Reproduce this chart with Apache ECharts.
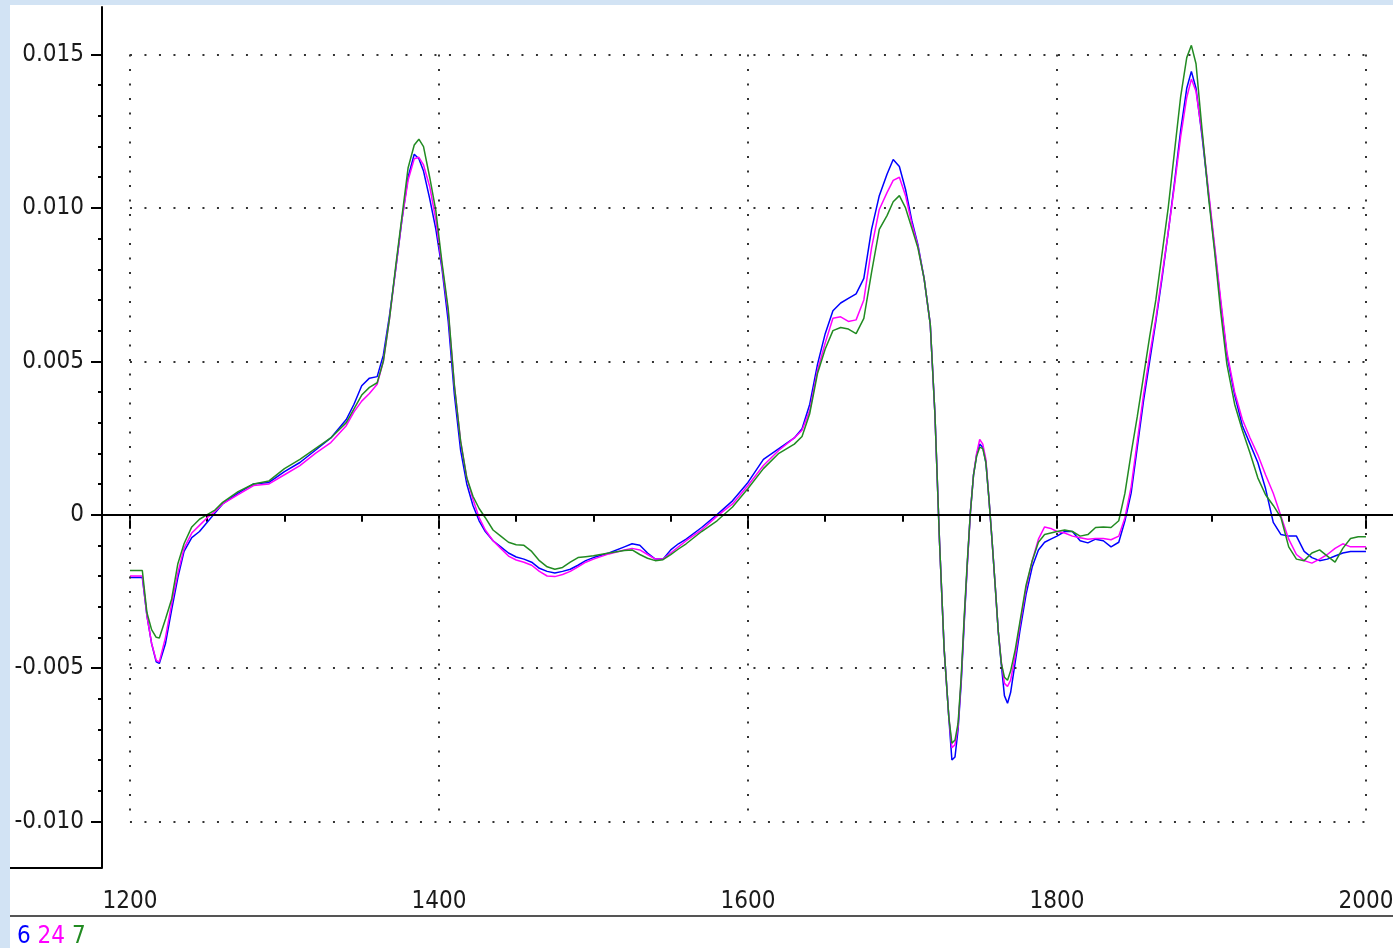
<!DOCTYPE html>
<html><head><meta charset="utf-8">
<script src="https://cdn.jsdelivr.net/npm/echarts@6/dist/echarts.min.js"></script>
<style>
html,body{margin:0;padding:0;width:1393px;height:948px;overflow:hidden;
  background:#d2e3f4;}
#paper{position:absolute;left:10px;top:5px;width:1383px;height:943px;background:#fff;}
#c{position:absolute;left:0;top:0;width:1393px;height:948px;}
</style>
</head><body><div id="paper"></div><div id="c"></div>
<script>
// wavenumber grid (cm-1)
const wavenumbers = [1200,1205,1208,1211,1214,1217,1219,1223,1227,1231,1235,1240,1245,1250,1255,1260,1270,1280,1290,1300,1310,1320,1330,1340,1345,1350,1355,1360,1364,1368,1372,1376,1380,1384,1387,1390,1394,1398,1402,1406,1410,1414,1418,1422,1426,1430,1435,1440,1445,1450,1455,1460,1465,1470,1475,1480,1485,1490,1495,1500,1510,1520,1525,1530,1535,1540,1545,1550,1555,1560,1570,1580,1590,1600,1610,1620,1630,1635,1640,1645,1650,1655,1660,1665,1670,1675,1680,1685,1690,1694,1698,1702,1706,1710,1714,1718,1721,1724,1727,1730,1732,1734,1736,1738,1740,1742,1744,1746,1748,1750,1752,1754,1756,1758,1760,1762,1764,1766,1768,1770,1773,1776,1780,1784,1788,1792,1796,1800,1805,1810,1815,1820,1825,1830,1835,1840,1844,1848,1852,1856,1860,1864,1868,1872,1876,1880,1884,1887,1890,1894,1898,1902,1906,1910,1915,1920,1925,1930,1935,1940,1945,1950,1955,1960,1965,1970,1975,1980,1985,1990,1995,2000];

// spectrum "6" (blue)
const spectrum6 = [-0.00205,-0.00205,-0.00205,-0.0033,-0.0042,-0.0048,-0.00485,-0.0042,-0.0031,-0.00205,-0.0012,-0.00075,-0.00055,-0.00025,0.00005,0.00035,0.0007,0.001,0.00105,0.0014,0.0017,0.0021,0.0025,0.0031,0.0036,0.0042,0.00445,0.0045,0.0052,0.0065,0.008,0.0096,0.011,0.01175,0.0116,0.0112,0.0103,0.0093,0.008,0.0063,0.0039,0.0021,0.001,0.0003,-0.0002,-0.00055,-0.00085,-0.00105,-0.00125,-0.00138,-0.00145,-0.00155,-0.00175,-0.00185,-0.0019,-0.00185,-0.00178,-0.00165,-0.0015,-0.0014,-0.00125,-0.00105,-0.00095,-0.001,-0.00125,-0.00145,-0.00145,-0.00115,-0.00095,-0.0008,-0.00042,0,0.00045,0.00105,0.0018,0.00215,0.0025,0.0028,0.0036,0.0049,0.0059,0.00665,0.0069,0.00705,0.0072,0.0077,0.0093,0.0104,0.0111,0.01158,0.01135,0.0106,0.0096,0.0088,0.0077,0.0062,0.0033,-0.0009,-0.0044,-0.0066,-0.008,-0.0079,-0.007,-0.0055,-0.0035,-0.0016,0.0001,0.0013,0.00195,0.0023,0.0022,0.0017,0.0005,-0.00085,-0.0023,-0.0038,-0.0049,-0.0059,-0.00615,-0.0058,-0.0048,-0.0038,-0.0026,-0.0017,-0.00115,-0.0009,-0.0008,-0.0007,-0.00055,-0.00055,-0.00085,-0.00092,-0.0008,-0.00085,-0.00105,-0.0009,-0.0002,0.0007,0.0022,0.0037,0.005,0.0063,0.0077,0.0092,0.0108,0.0125,0.0139,0.01445,0.0139,0.0123,0.0105,0.0087,0.0069,0.0052,0.0039,0.0029,0.0023,0.0017,0.00085,-0.00025,-0.00065,-0.0007,-0.0007,-0.0012,-0.0014,-0.0015,-0.00145,-0.00135,-0.00125,-0.0012,-0.0012,-0.0012];

// spectrum "24" (magenta)
const spectrum24 = [-0.002,-0.002,-0.002,-0.0033,-0.0042,-0.00475,-0.0048,-0.004,-0.0029,-0.0019,-0.0011,-0.0006,-0.00035,-0.0001,0.0001,0.00035,0.00065,0.00095,0.001,0.0013,0.0016,0.002,0.00235,0.0029,0.00335,0.0037,0.00395,0.00425,0.005,0.0064,0.008,0.0096,0.0109,0.0116,0.01165,0.0114,0.0107,0.0096,0.0081,0.0066,0.0042,0.0024,0.0012,0.0005,-0.0001,-0.0005,-0.00085,-0.0011,-0.00135,-0.00148,-0.00155,-0.00165,-0.00185,-0.002,-0.00202,-0.00195,-0.00185,-0.0017,-0.00155,-0.00145,-0.00128,-0.00115,-0.0011,-0.00115,-0.0013,-0.00145,-0.00145,-0.00125,-0.00105,-0.00085,-0.0005,-0.00005,0.00035,0.00095,0.0016,0.0021,0.0025,0.00275,0.0034,0.0047,0.0056,0.0064,0.00645,0.0063,0.00635,0.007,0.0087,0.00995,0.0105,0.0109,0.011,0.0104,0.0095,0.00875,0.0077,0.0062,0.0033,-0.0009,-0.0044,-0.0066,-0.0076,-0.0075,-0.0069,-0.0054,-0.0034,-0.0016,0.0001,0.0013,0.002,0.00245,0.0023,0.0018,0.0005,-0.00085,-0.0023,-0.0038,-0.0048,-0.0055,-0.0056,-0.0054,-0.0046,-0.0036,-0.0024,-0.0015,-0.0008,-0.0004,-0.00045,-0.00055,-0.0006,-0.0007,-0.00075,-0.0008,-0.00078,-0.00078,-0.00082,-0.0007,-0.0001,0.0009,0.0024,0.0039,0.0052,0.0064,0.0078,0.0092,0.0107,0.0123,0.0136,0.0142,0.0138,0.0124,0.0106,0.0088,0.007,0.0053,0.004,0.0031,0.0025,0.00195,0.0013,0.0007,-0.00005,-0.0008,-0.0013,-0.0015,-0.00158,-0.00145,-0.0013,-0.0011,-0.00095,-0.00105,-0.00105,-0.00105];

// spectrum "7" (green)
const spectrum7 = [-0.00182,-0.00182,-0.00182,-0.0032,-0.00375,-0.004,-0.00402,-0.0034,-0.00275,-0.0016,-0.00095,-0.0004,-0.00015,0,0.00015,0.0004,0.00075,0.001,0.0011,0.0015,0.0018,0.00215,0.0025,0.003,0.00345,0.0039,0.00415,0.0043,0.005,0.0064,0.0081,0.0097,0.0113,0.01205,0.01224,0.012,0.011,0.0099,0.0082,0.0067,0.0042,0.0024,0.0012,0.0006,0.0002,-0.0001,-0.0005,-0.0007,-0.0009,-0.00098,-0.001,-0.0012,-0.0015,-0.0017,-0.00178,-0.00172,-0.00155,-0.0014,-0.00137,-0.00134,-0.00125,-0.00117,-0.00115,-0.0013,-0.00142,-0.0015,-0.00147,-0.0013,-0.00112,-0.00095,-0.00055,-0.0002,0.00025,0.00085,0.0015,0.002,0.0023,0.00255,0.0033,0.0046,0.0054,0.006,0.0061,0.00605,0.0059,0.0064,0.0079,0.0093,0.00975,0.0102,0.0104,0.01,0.00935,0.0087,0.0077,0.0062,0.0033,-0.0009,-0.0044,-0.0066,-0.00745,-0.00735,-0.0068,-0.0053,-0.0033,-0.0015,0.0001,0.0013,0.0019,0.0022,0.00215,0.0017,0.0005,-0.00085,-0.0023,-0.0038,-0.00485,-0.0053,-0.0054,-0.0051,-0.0044,-0.0035,-0.0023,-0.0015,-0.0009,-0.00065,-0.0006,-0.00055,-0.0005,-0.00055,-0.0007,-0.00065,-0.00042,-0.0004,-0.00042,-0.0002,0.0007,0.002,0.0032,0.0045,0.0058,0.007,0.0085,0.01,0.0118,0.0136,0.0149,0.0153,0.0147,0.0125,0.0104,0.0086,0.0066,0.0049,0.0036,0.00275,0.002,0.0012,0.00065,0.0003,-0.0001,-0.00105,-0.00145,-0.0015,-0.00125,-0.00115,-0.00135,-0.00155,-0.0011,-0.00078,-0.00072,-0.00072];

const seriesNames = ['6', '24', '7'];
const seriesColors = ['#0000ff', '#ff00ff', '#228b22'];
const xMajorTicks = [1200, 1400, 1600, 1800, 2000];
const xMinorTicks = [1250,1300,1350,1450,1500,1550,1650,1700,1750,1850,1900,1950];
const yMajorTicks = [-0.010, -0.005, 0, 0.005, 0.010, 0.015];
const yMinorTicks = [-0.009,-0.008,-0.007,-0.006,-0.004,-0.003,-0.002,-0.001,0.001,0.002,0.003,0.004,0.006,0.007,0.008,0.009,0.011,0.012,0.013,0.014];
const xRange = [1181.9, 2017.5];
const yRange = [-0.01152, 0.01655];

const FONT = "'Liberation Sans Narrow','Arial Narrow','DejaVu Sans Condensed',sans-serif";
const FS = 24;
const chart = echarts.init(document.getElementById('c'), null, {renderer: 'canvas'});

const pairs = arr => wavenumbers.map((w, i) => [w, arr[i]]);
const spectra = [spectrum6, spectrum24, spectrum7];

const axisCommonX = {
  type: 'value', min: xRange[0], max: xRange[1], position: 'bottom',
  splitLine: {show: false}
};
const axisCommonY = {
  type: 'value', min: yRange[0], max: yRange[1], position: 'left',
  splitLine: {show: false}
};

const dottedLines = [];
yMajorTicks.filter(v => v !== 0).forEach(v => dottedLines.push([{coord: [xMajorTicks[0], v]}, {coord: [xMajorTicks[xMajorTicks.length - 1], v]}]));
xMajorTicks.forEach(v => dottedLines.push([{coord: [v, yMajorTicks[yMajorTicks.length - 1]]}, {coord: [v, yMajorTicks[0]]}]));

const option = {
  animation: false,
  backgroundColor: 'transparent',
  grid: {left: 102, right: 0, top: 7, bottom: 80, containLabel: false, outerBoundsMode: 'none'},
  xAxis: [
    Object.assign({}, axisCommonX, {
      axisLine: {show: true, lineStyle: {color: '#000', width: 2}},
      axisTick: {show: true, length: 14, customValues: xMajorTicks, lineStyle: {color: '#000', width: 2}},
      axisLabel: {show: true, customValues: xMajorTicks, margin: 22, color: '#1a1a1a', fontSize: FS, fontFamily: FONT,
        hideOverlap: false, formatter: v => String(Math.round(v))}
    }),
    Object.assign({}, axisCommonX, {
      axisLine: {show: false},
      axisTick: {show: true, length: 7, customValues: xMinorTicks, lineStyle: {color: '#000', width: 2}},
      axisLabel: {show: false}
    })
  ],
  yAxis: [
    Object.assign({}, axisCommonY, {
      axisLine: {show: true, lineStyle: {color: '#000', width: 2}},
      axisTick: {show: true, length: 11, customValues: yMajorTicks, lineStyle: {color: '#000', width: 2}},
      axisLabel: {show: true, customValues: yMajorTicks, margin: 18, color: '#1a1a1a', fontSize: FS, fontFamily: FONT,
        formatter: v => (Math.abs(v) < 1e-12 ? '0' : v.toFixed(3))}
    }),
    Object.assign({}, axisCommonY, {
      axisLine: {show: false},
      axisTick: {show: true, length: 4, customValues: yMinorTicks, lineStyle: {color: '#000', width: 2}},
      axisLabel: {show: false}
    })
  ],
  graphic: [
    {type: 'line', shape: {x1: 10, y1: 868, x2: 102, y2: 868}, style: {stroke: '#000', lineWidth: 2}, silent: true},
    {type: 'line', shape: {x1: 10, y1: 916, x2: 1393, y2: 916}, style: {stroke: '#555', lineWidth: 2}, silent: true},
    {type: 'text', left: 17, top: 925, silent: true,
      style: {
        text: '{a|' + seriesNames[0] + '} {b|' + seriesNames[1] + '} {c|' + seriesNames[2] + '}',
        font: FS + 'px ' + FONT,
        rich: {
          a: {fill: seriesColors[0], font: FS + 'px ' + FONT},
          b: {fill: seriesColors[1], font: FS + 'px ' + FONT},
          c: {fill: seriesColors[2], font: FS + 'px ' + FONT}
        }
      }}
  ],
  series: [
    {
      type: 'line', name: 'grid', data: [], silent: true, xAxisIndex: 0, yAxisIndex: 0,
      markLine: {silent: true, symbol: ['none', 'none'], label: {show: false}, animation: false,
        lineStyle: {color: '#333', width: 2, type: [2, 12.5]}, emphasis: {disabled: true},
        data: dottedLines}
    },
    {
      type: 'line', name: 'zero', data: [], silent: true, xAxisIndex: 0, yAxisIndex: 0,
      markLine: {silent: true, symbol: ['none', 'none'], label: {show: false}, animation: false,
        lineStyle: {color: '#000', width: 2, type: 'solid'}, emphasis: {disabled: true},
        data: [[{coord: [xMajorTicks[0], 0]}, {coord: [xMajorTicks[xMajorTicks.length - 1], 0]}]]}
    }
  ].concat(spectra.map((arr, i) => ({
    type: 'line', name: seriesNames[i], data: pairs(arr), xAxisIndex: 0, yAxisIndex: 0,
    showSymbol: false, symbol: 'none', smooth: false, clip: false,
    lineStyle: {color: seriesColors[i], width: 1.5}, itemStyle: {color: seriesColors[i]},
    emphasis: {disabled: true}
  })))
};
chart.setOption(option);
</script>
</body></html>
